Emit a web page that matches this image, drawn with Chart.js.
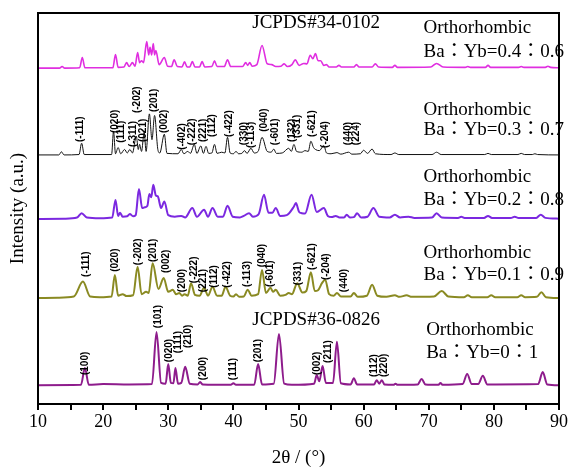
<!DOCTYPE html>
<html lang="en">
<head>
    <meta charset="UTF-8">
    <title>XRD patterns Ba:Yb</title>
    <script src="https://cdn.jsdelivr.net/npm/chart.js"></script>
    <style>
        html, body { margin: 0; padding: 0; background: #fff; }
        #wrap { width: 569px; height: 468px; position: relative; }
    </style>
</head>
<body>
<div id="wrap"><canvas id="xrd"></canvas></div>
<script>
// series names (top to bottom)
const seriesNames = ['Ba:Yb=0.4:0.6', 'Ba:Yb=0.3:0.7', 'Ba:Yb=0.2:0.8', 'Ba:Yb=0.1:0.9', 'Ba:Yb=0:1'];
// vertical offset of each pattern (stacked plot, a.u.)
const offsets = [85.8, 63.6, 47.1, 26.9, 4.6];

// [2theta, intensity above baseline]
const p04 = [[10,0.1],[13.3,0.1],[13.7,0.5],[14.1,0.1],[16.4,0.2],[16.8,2.8],[17.2,0.2],[21.5,0.2],[21.9,3.6],[22.3,0.3],[23.2,0.4],[23.6,1.5],[24.0,0.5],[24.5,1.5],[24.9,0.6],[25.3,4.1],[25.6,1.5],[25.9,2.0],[26.2,1.5],[26.7,6.9],[27.0,3.5],[27.2,5.4],[27.45,3.5],[27.7,6.4],[27.9,3.5],[28.1,4.6],[28.6,1.0],[29.4,2.8],[29.9,0.6],[30.5,0.5],[30.9,2.2],[31.4,0.5],[32.1,0.4],[32.5,1.7],[32.9,0.4],[33.3,0.4],[33.7,1.8],[34.1,0.4],[34.8,0.4],[35.2,1.8],[35.6,0.4],[36.7,0.5],[37.1,2.0],[37.5,0.5],[38.6,0.5],[39.1,2.2],[39.6,0.5],[41.4,0.5],[41.9,1.5],[42.2,0.8],[42.5,1.5],[42.9,0.6],[43.6,1.0],[44.4,5.9],[45.2,1.2],[45.9,1.0],[46.5,0.5],[47.3,0.6],[47.8,1.2],[48.3,0.5],[49.0,1.0],[49.5,2.2],[50.1,0.8],[50.8,1.3],[51.3,1.2],[51.8,3.4],[52.2,2.5],[52.6,3.8],[53.0,2.0],[53.4,2.0],[53.9,0.8],[54.3,1.0],[54.7,0.4],[55.8,0.4],[56.2,0.8],[56.6,0.4],[58.5,0.4],[58.9,1.0],[59.3,0.4],[61.3,0.4],[61.8,1.2],[62.3,0.4],[64.4,0.3],[64.8,0.8],[65.2,0.3],[70.3,0.4],[71.2,1.3],[72.2,0.4],[75.6,0.3],[76.0,0.5],[76.4,0.3],[78.7,0.3],[79.1,0.8],[79.5,0.3],[83.8,0.3],[84.2,0.5],[84.6,0.3],[87.9,0.3],[88.3,0.6],[88.7,0.3],[90,0.2]];

const p03 = [[10,0.1],[13.2,0.1],[13.6,0.9],[14.0,0.1],[16.3,0.2],[16.7,3.1],[17.1,0.2],[21.3,0.2],[21.6,6.2],[21.9,0.4],[22.3,2.0],[22.7,0.4],[23.3,1.5],[23.7,0.6],[24.1,1.5],[24.5,0.6],[25.1,4.9],[25.4,1.5],[25.6,2.8],[25.9,1.0],[26.3,5.9],[26.6,1.0],[27.1,10.6],[27.5,4.0],[27.9,10.2],[28.4,1.5],[28.7,0.6],[29.4,5.4],[29.8,0.5],[31.5,0.4],[32.0,1.5],[32.4,0.4],[33.0,1.0],[33.4,0.5],[34.0,2.8],[34.4,0.5],[35.0,2.4],[35.4,0.5],[35.8,2.3],[36.2,0.5],[36.7,0.6],[37.1,2.8],[37.5,0.5],[38.2,0.8],[38.7,0.6],[39.1,4.6],[39.5,0.6],[40.0,0.4],[40.4,1.0],[40.8,0.4],[41.3,0.5],[41.7,1.2],[42.1,0.5],[42.7,1.8],[43.2,0.6],[43.8,1.0],[44.4,4.6],[45.2,1.0],[45.8,0.8],[46.2,1.6],[46.6,0.5],[47.5,0.6],[48.5,1.8],[48.9,1.0],[49.3,2.8],[49.7,1.0],[50.5,0.8],[51.0,1.2],[51.5,1.0],[51.9,3.6],[52.3,2.0],[52.6,1.5],[53.2,1.2],[53.9,2.5],[54.3,0.6],[55.0,0.4],[55.9,0.7],[56.5,0.3],[57.7,0.8],[58.2,0.3],[59.5,0.4],[60.0,1.3],[60.6,0.5],[61.3,1.6],[61.8,0.4],[64.2,0.2],[64.8,0.6],[65.4,0.2],[70.5,0.2],[71.2,0.8],[71.9,0.2],[78.6,0.2],[79.1,0.5],[79.6,0.2],[83.7,0.2],[84.2,0.5],[84.7,0.2],[85.9,0.2],[86.3,0.4],[86.7,0.2],[90,0.1]];

const p02 = [[10,0.2],[14,0.3],[16.0,0.6],[16.7,1.7],[17.5,0.6],[19.5,0.4],[21.4,0.6],[21.9,5.1],[22.3,1.0],[22.6,1.8],[23.0,0.8],[23.7,0.9],[24.1,1.5],[24.6,0.9],[25.0,1.2],[25.5,7.9],[26.0,3.0],[26.4,3.2],[26.8,3.6],[27.1,6.6],[27.4,5.8],[27.7,9.0],[28.1,6.2],[28.4,6.0],[28.9,3.0],[29.4,4.7],[30.0,1.2],[31,0.8],[32.0,1.0],[32.6,0.6],[33.7,3.0],[34.4,0.8],[35.5,2.6],[36.1,0.8],[36.8,3.0],[37.6,0.8],[38.4,0.8],[39.1,3.6],[39.9,0.8],[41.0,0.6],[41.6,1.0],[42.4,1.7],[43.0,0.8],[43.9,1.5],[44.7,6.4],[45.4,1.8],[46.0,1.8],[46.5,3.0],[47.2,1.0],[48.2,1.2],[49.3,3.4],[49.6,4.3],[50.1,2.0],[50.5,1.7],[51.0,1.6],[52.0,6.4],[52.8,2.0],[53.9,3.0],[54.5,1.0],[55.1,0.7],[55.7,1.0],[56.3,0.6],[57.0,0.6],[57.4,1.3],[57.9,0.6],[58.5,0.7],[59.0,1.7],[59.6,0.6],[60.6,0.8],[61.5,3.0],[62.4,0.8],[64.0,0.6],[64.8,1.3],[65.6,0.6],[66.9,0.8],[67.8,0.5],[70.5,0.6],[71.2,1.7],[72.0,0.6],[74.5,0.5],[75.0,0.8],[75.5,0.5],[78.5,0.5],[79.1,1.0],[79.7,0.5],[82.6,0.5],[83.2,0.8],[83.8,0.5],[86.5,0.5],[87.2,1.3],[87.9,0.5],[90,0.3]];

const p01 = [[10,0.2],[13,0.3],[15.5,0.6],[16.9,4.4],[18.0,0.6],[19.5,0.4],[21.3,0.6],[21.8,6.1],[22.3,0.8],[23,1.2],[23.6,0.7],[24.6,0.9],[25.3,8.2],[25.9,1.2],[26.6,1.8],[27.0,1.5],[27.6,9.1],[28.5,2.5],[29.3,5.3],[30.0,1.8],[30.7,2.3],[31.2,1.2],[31.7,1.5],[32.1,0.8],[32.5,1.2],[33.0,0.8],[33.5,4.0],[34.1,1.0],[34.8,0.8],[35.5,2.8],[36.1,0.8],[36.8,3.1],[37.5,0.8],[38.2,0.8],[38.8,3.1],[39.5,0.8],[40.0,0.6],[40.4,1.2],[40.9,0.5],[41.6,0.6],[42.2,2.3],[42.8,0.8],[43.8,1.2],[44.4,7.4],[45.0,1.5],[45.7,2.8],[46.1,1.8],[46.5,2.3],[47.2,0.8],[48.0,1.0],[48.5,1.5],[49.0,1.2],[49.8,4.0],[50.6,1.6],[51.2,2.0],[51.9,6.8],[52.5,2.0],[53.0,2.2],[53.6,4.0],[54.1,4.9],[54.7,1.2],[55.4,0.8],[55.9,1.5],[56.5,0.6],[58.0,0.6],[58.5,1.5],[59.1,0.5],[60.5,0.8],[61.3,3.6],[62.1,0.8],[63.5,0.5],[64.8,0.9],[65.5,0.5],[66.6,0.9],[67.4,0.5],[70.8,0.6],[72.0,2.0],[73.0,0.6],[75.4,0.4],[76.0,0.9],[76.6,0.4],[79.0,0.4],[79.6,0.9],[80.2,0.4],[83.6,0.4],[84.2,0.9],[84.8,0.4],[86.6,0.5],[87.3,1.7],[88.0,0.4],[90,0.2]];

const p00 = [[10,0.2],[16.6,0.3],[17.2,4.6],[17.8,0.3],[20,0.5],[24,0.4],[27.5,0.5],[28.2,13.8],[28.9,0.8],[29.6,0.6],[30.0,5.6],[30.4,0.8],[30.8,0.7],[31.1,4.6],[31.5,0.6],[32.0,0.8],[32.6,4.9],[33.3,0.6],[34.5,0.4],[34.9,1.0],[35.3,0.4],[39.6,0.3],[40.0,0.7],[40.4,0.3],[43.2,0.3],[43.8,5.6],[44.4,0.4],[46.2,0.6],[47.0,13.3],[47.8,0.6],[49,0.3],[52.4,0.6],[52.8,2.8],[53.2,1.2],[53.7,5.1],[54.2,0.8],[55.3,0.8],[55.9,11.3],[56.5,0.7],[58.0,0.4],[58.5,2.0],[59.0,0.4],[61.6,0.4],[62.0,1.5],[62.4,0.6],[62.8,1.5],[63.2,0.4],[64.6,0.3],[64.9,0.6],[65.2,0.3],[68.3,0.4],[68.9,1.8],[69.5,0.4],[71.5,0.3],[71.8,0.8],[72.1,0.3],[75.2,0.5],[75.9,3.1],[76.6,0.5],[77.6,0.5],[78.3,2.6],[79,0.4],[86.8,0.5],[87.5,3.6],[88.2,0.4],[90,0.2]];

const patterns = [p04, p03, p02, p01, p00];
const colors = ['#e02ee0', '#111111', '#7b28e0', '#8a8a22', '#8e1c8c'];
const widths = [1.6, 1, 2, 2, 2];

// Miller index labels: [text, 2theta, intensity at label start]
const hkl03 = [['(-111)',16.5,67.0],['(020)',21.8,69.3],['(111)',22.8,66.8],['(-311)',24.7,65.7],['(-202)',25.3,74.4],['(021)',26.1,67.0],['(201)',27.9,74.7],['(002)',29.4,69.3],['(-402)',32.1,65.0],['(-222)',33.7,66.2],['(221)',35.3,67.0],['(112)',36.8,68.3],['(-422)',39.4,68.3],['(330)',41.7,66.2],['(-113)',42.7,65.5],['(040)',44.7,69.6],['(-601)',46.5,66.2],['(132)',49.0,67.0],['(331)',49.8,68.0],['(-621)',52.1,68.3],['(-204)',54.1,65.5],['(440)',57.6,66.2],['(224)',58.8,66.2]];
const hkl01 = [['(-111)',17.4,32.5],['(020)',21.8,33.8],['(-202)',25.4,35.5],['(201)',27.7,36.3],['(002)',29.7,33.5],['(200)',32.1,28.6],['(-222)',34.0,30.9],['(221)',35.4,28.6],['(112)',37.1,29.7],['(-422)',39.1,29.7],['(-113)',42.2,29.9],['(040)',44.4,35.0],['(-601)',45.7,29.9],['(331)',50.0,30.4],['(-621)',52.1,34.3],['(-204)',54.2,31.7],['(440)',57.0,28.6]];
const hkl00 = [['(100)',17.3,7.4],['(101)',28.4,19.4],['(020)',30.1,10.7],['(111)',31.5,13.0],['(210)',33.0,14.3],['(200)',35.3,6.1],['(111)',40.0,6.1],['(201)',43.8,10.7],['(002)',52.9,7.4],['(211)',54.5,10.5],['(112)',61.7,6.9],['(220)',63.1,6.9]];

// text notes: [text, 2theta, intensity]
const notes = [
    ['JCPDS#34-0102', 42.9, 97.4],
    ['Orthorhombic', 69.2, 96.2], ['Ba：Yb=0.4：0.6', 69.2, 90.0],
    ['Orthorhombic', 69.2, 75.2], ['Ba：Yb=0.3：0.7', 69.2, 70.1],
    ['Orthorhombic', 69.2, 58.1], ['Ba：Yb=0.2：0.8', 69.2, 52.2],
    ['Orthorhombic', 69.2, 38.6], ['Ba：Yb=0.1：0.9', 69.2, 33.0],
    ['JCPDS#36-0826', 42.9, 21.5],
    ['Orthorhombic', 69.6, 18.9], ['Ba：Yb=0：1', 69.6, 13.0]
];

const xTicks = [10, 20, 30, 40, 50, 60, 70, 80, 90];

const serif = '"Liberation Serif", "Times New Roman", "Noto Sans CJK JP", serif';

const datasets = patterns.map((p, i) => ({
    label: seriesNames[i],
    data: p.map(d => ({ x: d[0], y: d[1] + offsets[i] })),
    borderColor: colors[i],
    borderWidth: widths[i],
    pointRadius: 0,
    fill: false,
    cubicInterpolationMode: 'monotone'
}));

// draws hkl labels, notes and the frame
const extras = {
    id: 'extras',
    afterDatasetsDraw(chart) {
        const ctx = chart.ctx;
        const xs = chart.scales.x, ys = chart.scales.y;
        ctx.save();
        ctx.fillStyle = '#000';
        ctx.font = 'bold 10px "Liberation Sans", Arial, sans-serif';
        ctx.textAlign = 'left';
        ctx.textBaseline = 'middle';
        [hkl03, hkl01, hkl00].forEach(list => {
            list.forEach(l => {
                ctx.save();
                ctx.translate(xs.getPixelForValue(l[1]), ys.getPixelForValue(l[2]));
                ctx.rotate(-Math.PI / 2);
                ctx.fillText(l[0], 0, 0);
                ctx.restore();
            });
        });
        ctx.font = '19px ' + serif;
        notes.forEach(n => {
            ctx.fillText(n[0], xs.getPixelForValue(n[1]), ys.getPixelForValue(n[2]));
        });
        const a = chart.chartArea;
        ctx.strokeStyle = '#000';
        ctx.lineWidth = 2;
        ctx.strokeRect(a.left, a.top, a.right - a.left, a.bottom - a.top);
        ctx.restore();
    }
};

new Chart(document.getElementById('xrd'), {
    type: 'line',
    data: { datasets: datasets },
    options: {
        responsive: true,
        maintainAspectRatio: false,
        animation: false,
        layout: { padding: { top: 13, right: 8, left: 0, bottom: 0 } },
        plugins: { legend: { display: false }, tooltip: { enabled: false } },
        scales: {
            x: {
                type: 'linear',
                min: 10, max: 90,
                afterFit(s) { s.height = 64; },
                afterBuildTicks(s) {
                    const t = [];
                    for (let v = 10; v <= 90; v += 5) t.push({ value: v });
                    s.ticks = t;
                },
                ticks: {
                    autoSkip: false, maxRotation: 0, padding: 1,
                    color: '#000',
                    font: { family: serif, size: 18 },
                    callback: v => xTicks.includes(v) ? String(v) : ''
                },
                grid: { drawOnChartArea: false, drawTicks: true, tickLength: 6, color: '#000', lineWidth: 2 },
                border: { color: '#000', width: 2 },
                title: {
                    display: true, text: '2θ / (°)', color: '#000',
                    font: { family: serif, size: 19, lineHeight: 1 },
                    padding: { top: 0, bottom: 0 }
                }
            },
            y: {
                min: 0, max: 100,
                afterFit(s) { s.width = 38; },
                ticks: { display: false },
                grid: { display: false, drawTicks: false },
                border: { color: '#000', width: 2 },
                title: {
                    display: true, text: 'Intensity (a.u.)', color: '#000',
                    font: { family: serif, size: 19, lineHeight: 1.2 },
                    padding: { top: 7, bottom: 0 }
                }
            }
        }
    },
    plugins: [extras]
});
</script>
</body>
</html>
